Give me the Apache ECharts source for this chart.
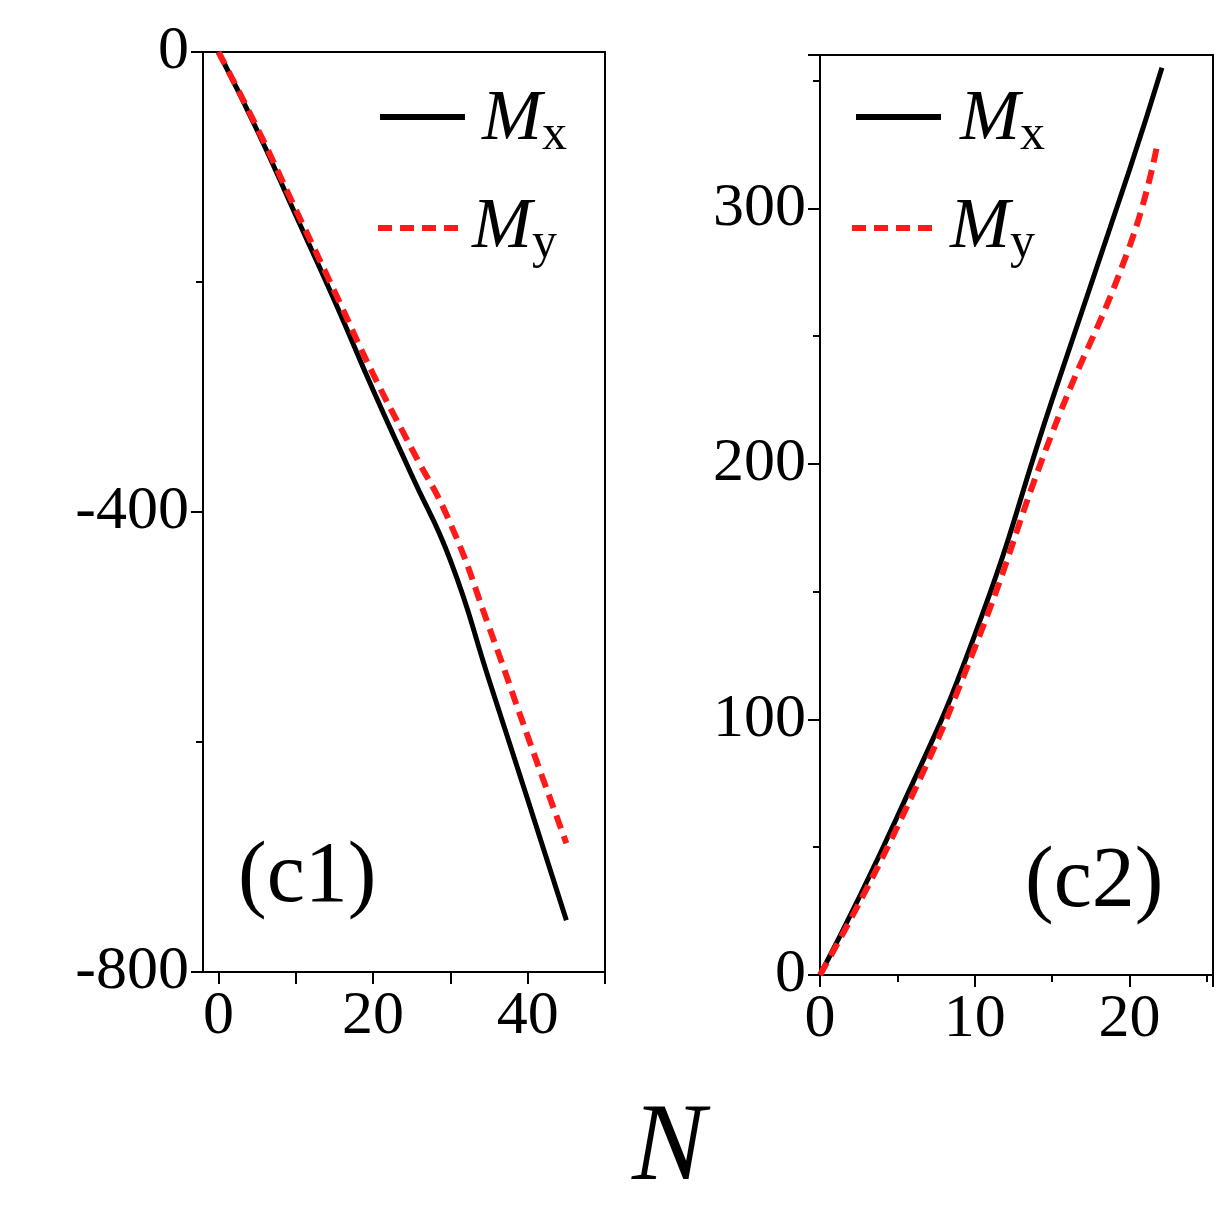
<!DOCTYPE html>
<html><head><meta charset="utf-8">
<script src="https://cdn.jsdelivr.net/npm/echarts@6/dist/echarts.min.js"></script>
<style>html,body{margin:0;padding:0;background:#fff}#c{width:1230px;height:1226px}</style>
</head><body><div id="c"></div>
<script>
const N1 = [0, 5, 10, 15, 20, 25, 30, 35, 40, 45];
const Mx1 = [0, -68, -142, -216, -294, -368, -442, -546, -650, -755];
const My1 = [0, -66, -137, -208, -280, -345, -410, -500, -595, -688];
const N2 = [0, 5, 10, 15, 20, 22.1];
const Mx2 = [0, 62, 133, 225, 315, 355];
const N2y = [0, 5, 10, 15, 20, 21.8];
const My2 = [0, 58, 128, 212, 285, 325];
const X1Ticks = [0, 20, 40];
const X1Minor = [10, 30, 50];
const pair = (xs, ys) => xs.map((x, i) => [x, ys[i]]);
const font = 'Liberation Serif';
const ch = echarts.init(document.getElementById('c'));
const axisCommon = {
  axisLine: {show: true, onZero: false, lineStyle: {color: '#000', width: 2}},
  axisTick: {show: true, inside: false, length: 12, lineStyle: {color: '#000', width: 2}},
  minorTick: {show: true, splitNumber: 2, length: 7, lineStyle: {color: '#000', width: 2}},
  splitLine: {show: false},
  axisLabel: {color: '#000', fontFamily: font, fontSize: 62, margin: 14}
};
const boxAxis = {show: true, axisLine: {show: true, onZero: false, lineStyle: {color: '#000', width: 2}}, axisTick: {show: false}, axisLabel: {show: false}, splitLine: {show: false}};
const tickAll = X1Ticks.concat(X1Minor).sort((a, b) => a - b);
ch.setOption({
  animation: false,
  grid: [
    {left: 203, top: 52, width: 402, height: 920},
    {left: 820, top: 55, width: 393, height: 920}
  ],
  xAxis: [
    Object.assign({type: 'value', gridIndex: 0, min: -2, max: 50}, axisCommon, {
      axisTick: Object.assign({}, axisCommon.axisTick, {customValues: tickAll}),
      minorTick: {show: false},
      axisLabel: Object.assign({}, axisCommon.axisLabel, {customValues: X1Ticks})
    }),
    Object.assign({type: 'value', gridIndex: 1, min: 0, max: 25.4, interval: 10}, axisCommon, {axisLabel: Object.assign({}, axisCommon.axisLabel, {formatter: v => v > 20 ? '' : v})}),
    Object.assign({type: 'value', gridIndex: 0, position: 'top', min: -2, max: 50}, boxAxis),
    Object.assign({type: 'value', gridIndex: 1, position: 'top', min: 0, max: 25.4}, boxAxis)
  ],
  yAxis: [
    Object.assign({type: 'value', gridIndex: 0, min: -800, max: 0, interval: 400}, axisCommon),
    Object.assign({type: 'value', gridIndex: 1, min: 0, max: 360, interval: 100}, axisCommon, {axisLabel: Object.assign({}, axisCommon.axisLabel, {formatter: v => v > 300 ? '' : v})}),
    Object.assign({type: 'value', gridIndex: 0, position: 'right', min: -800, max: 0}, boxAxis),
    Object.assign({type: 'value', gridIndex: 1, position: 'right', min: 0, max: 360}, boxAxis)
  ],
  series: [
    {type: 'line', xAxisIndex: 0, yAxisIndex: 0, data: pair(N1, Mx1), smooth: true, symbol: 'none', lineStyle: {color: '#000', width: 5}},
    {type: 'line', xAxisIndex: 0, yAxisIndex: 0, data: pair(N1, My1), smooth: true, symbol: 'none', lineStyle: {color: '#ff1a1a', width: 6, type: [14, 8]}},
    {type: 'line', xAxisIndex: 1, yAxisIndex: 1, data: pair(N2, Mx2), smooth: true, symbol: 'none', lineStyle: {color: '#000', width: 5}},
    {type: 'line', xAxisIndex: 1, yAxisIndex: 1, data: pair(N2y, My2), smooth: true, symbol: 'none', lineStyle: {color: '#ff1a1a', width: 6, type: [14, 8]}}
  ],
  graphic: [
    {type: 'line', shape: {x1: 380, y1: 117, x2: 465, y2: 117}, style: {stroke: '#000', lineWidth: 6}},
    {type: 'line', shape: {x1: 378, y1: 228, x2: 463, y2: 228}, style: {stroke: '#ff1a1a', lineWidth: 6, lineDash: [14, 8]}},
    {type: 'line', shape: {x1: 856, y1: 117, x2: 941, y2: 117}, style: {stroke: '#000', lineWidth: 6}},
    {type: 'line', shape: {x1: 852, y1: 228, x2: 937, y2: 228}, style: {stroke: '#ff1a1a', lineWidth: 6, lineDash: [14, 8]}},
    {type: 'text', left: 482, top: 84, style: {text: '{m|M}{s|x}', rich: {m: {fontFamily: font, fontStyle: 'italic', fontSize: 72, fill: '#000'}, s: {fontFamily: font, fontSize: 50, fill: '#000', padding: [32, 0, 0, 0]}}}},
    {type: 'text', left: 472, top: 192, style: {text: '{m|M}{s|y}', rich: {m: {fontFamily: font, fontStyle: 'italic', fontSize: 72, fill: '#000'}, s: {fontFamily: font, fontSize: 50, fill: '#000', padding: [32, 0, 0, 0]}}}},
    {type: 'text', left: 960, top: 84, style: {text: '{m|M}{s|x}', rich: {m: {fontFamily: font, fontStyle: 'italic', fontSize: 72, fill: '#000'}, s: {fontFamily: font, fontSize: 50, fill: '#000', padding: [32, 0, 0, 0]}}}},
    {type: 'text', left: 950, top: 192, style: {text: '{m|M}{s|y}', rich: {m: {fontFamily: font, fontStyle: 'italic', fontSize: 72, fill: '#000'}, s: {fontFamily: font, fontSize: 50, fill: '#000', padding: [32, 0, 0, 0]}}}},
    {type: 'text', left: 238, top: 835, style: {text: '(c1)', fontFamily: font, fontSize: 86, fill: '#000'}},
    {type: 'text', left: 1025, top: 840, style: {text: '(c2)', fontFamily: font, fontSize: 86, fill: '#000'}},
    {type: 'text', left: 632, top: 1095, style: {text: 'N', fontFamily: font, fontStyle: 'italic', fontSize: 110, fill: '#000'}}
  ]
});
</script></body></html>
